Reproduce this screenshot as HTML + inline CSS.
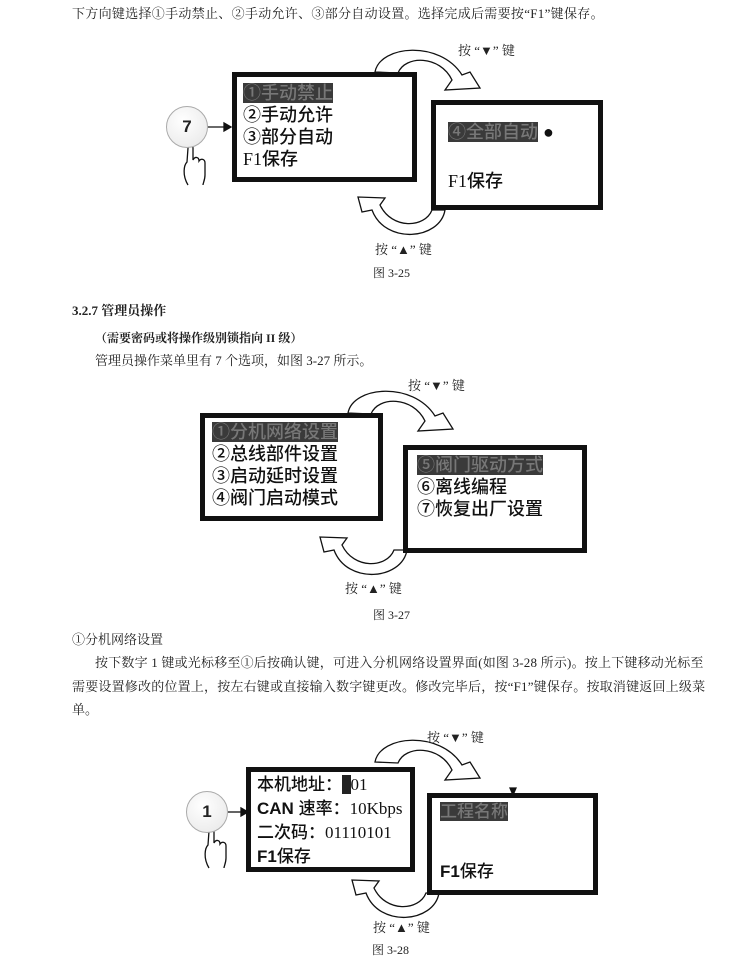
<!DOCTYPE html>
<html><head><meta charset="utf-8"><style>
body{margin:0;background:#fff;}
#p{position:relative;width:750px;height:960px;overflow:hidden;font-family:"Liberation Serif","Noto Serif CJK SC",serif;color:#222;}
.t{position:absolute;font-size:13px;white-space:nowrap;line-height:16px;}
.b{position:absolute;border:5px solid #111;background:#fff;box-sizing:border-box;}
.m{position:absolute;font-family:"Liberation Sans","Noto Sans CJK SC",sans-serif;font-size:18px;line-height:22px;white-space:nowrap;color:#111;font-weight:500;}
.s{font-family:"Liberation Serif","Noto Sans CJK SC",serif;}
.hl{background:#3a3a3a;color:#777;}
.c{position:absolute;width:40px;height:40px;border-radius:50%;border:1px solid #aaa;background:radial-gradient(circle at 40% 35%,#fff,#e6e6e6);font-family:"Liberation Sans",sans-serif;font-weight:bold;font-size:17px;text-align:center;line-height:40px;}
svg{position:absolute;left:0;top:0;}
</style></head><body><div id="p">
<div class="t" style="left:72px;top:6px;letter-spacing:0.3px">下方向键选择①手动禁止、②手动允许、③部分自动设置。选择完成后需要按“F1”键保存。</div>

<svg width="750" height="960" fill="#fff" stroke="#111" stroke-width="1.3">
<defs>
<path id="up" d="M375,72 C380,45 440,40 462,75 L470,72 L480,88 L445,90 L452,80 C440,55 405,55 398,73 Z"/>
<path id="dn" d="M445,210 C440,240 385,245 372,210 L362,212 L358,197 L385,198 L380,205 C392,230 425,228 432,210 Z"/>
</defs>
<use href="#up"/><use href="#dn"/>
<g transform="translate(-27,341)"><use href="#up"/></g>
<g transform="translate(-38,340)"><use href="#dn"/></g>
<g transform="translate(0,690)"><use href="#up"/></g>
<g transform="translate(-6,683)"><use href="#dn"/></g>
<g fill="none" stroke-width="1.3">
<line x1="208" y1="127" x2="226" y2="127"/><path d="M224,123 L231,127 L224,131 Z" fill="#111"/>
<line x1="228" y1="812" x2="243" y2="812"/><path d="M241,808 L248,812 L241,816 Z" fill="#111"/>
<path d="M188,185 C182,175 184,165 187,162 L188,148 C188,144 193,144 193,148 L193,160 C195,156 199,157 199,161 C201,158 205,159 205,163 L205,175 C205,180 203,183 203,185"/>
<path d="M209,868 C203,858 205,848 208,845 L209,831 C209,827 214,827 214,831 L214,843 C216,839 220,840 220,844 C222,841 226,842 226,846 L226,858 C226,863 224,866 224,868"/>
</g>
<path d="M510,788 L516,788 L513,795 Z" fill="#111"/>
</svg>

<div class="t" style="left:458px;top:43px">按 “▼” 键</div>
<div class="c" style="left:166px;top:106px">7</div>
<div class="b" style="left:232px;top:72px;width:185px;height:110px"></div>
<div class="m" style="left:243px;top:82px"><span class="hl">①手动禁止</span><br>②手动允许<br>③部分自动<br><span class="s">F1</span>保存</div>
<div class="b" style="left:431px;top:100px;width:172px;height:110px"></div>
<div class="m" style="left:448px;top:121px"><span class="hl">④全部自动</span> ●</div>
<div class="m" style="left:448px;top:170px"><span class="s">F1</span>保存</div>
<div class="t" style="left:375px;top:242px">按 “▲” 键</div>
<div class="t" style="left:373px;top:265px;font-size:12px">图 3-25</div>

<div class="t" style="left:72px;top:303px;font-weight:bold">3.2.7 管理员操作</div>
<div class="t" style="left:95px;top:330px;font-weight:bold;font-size:12px">（需要密码或将操作级别锁指向 II 级）</div>
<div class="t" style="left:95px;top:353px">管理员操作菜单里有 7 个选项，如图 3-27 所示。</div>

<div class="t" style="left:408px;top:378px">按 “▼” 键</div>
<div class="b" style="left:200px;top:413px;width:183px;height:108px"></div>
<div class="m" style="left:212px;top:421px"><span class="hl">①分机网络设置</span><br>②总线部件设置<br>③启动延时设置<br>④阀门启动模式</div>
<div class="b" style="left:403px;top:445px;width:184px;height:108px"></div>
<div class="m" style="left:417px;top:454px"><span class="hl">⑤阀门驱动方式</span><br>⑥离线编程<br>⑦恢复出厂设置</div>
<div class="t" style="left:345px;top:581px">按 “▲” 键</div>
<div class="t" style="left:373px;top:607px;font-size:12px">图 3-27</div>

<div class="t" style="left:72px;top:632px">①分机网络设置</div>
<div class="t" style="left:95px;top:655px;letter-spacing:0.2px">按下数字 1 键或光标移至①后按确认键，可进入分机网络设置界面(如图 3-28 所示)。按上下键移动光标至</div>
<div class="t" style="left:72px;top:679px;letter-spacing:0.2px">需要设置修改的位置上，按左右键或直接输入数字键更改。修改完毕后，按“F1”键保存。按取消键返回上级菜</div>
<div class="t" style="left:72px;top:702px">单。</div>

<div class="t" style="left:427px;top:730px">按 “▼” 键</div>
<div class="c" style="left:186px;top:791px">1</div>
<div class="b" style="left:246px;top:767px;width:169px;height:105px"></div>
<div class="m" style="left:257px;top:773px;font-size:17px;line-height:24px">本机地址：<span class="s"><span style="background:#222;color:#222">0</span>01</span><br><b>CAN</b> 速率：<span class="s">10Kbps</span><br>二次码：<span class="s">01110101</span><br><b>F1</b>保存</div>
<div class="b" style="left:427px;top:793px;width:171px;height:102px"></div>
<div class="m" style="left:440px;top:801px;font-size:17px"><span class="hl">工程名称</span></div>
<div class="m" style="left:440px;top:861px;font-size:17px"><b>F1</b>保存</div>
<div class="t" style="left:373px;top:920px">按 “▲” 键</div>
<div class="t" style="left:372px;top:942px;font-size:12px">图 3-28</div>
</div></body></html>
